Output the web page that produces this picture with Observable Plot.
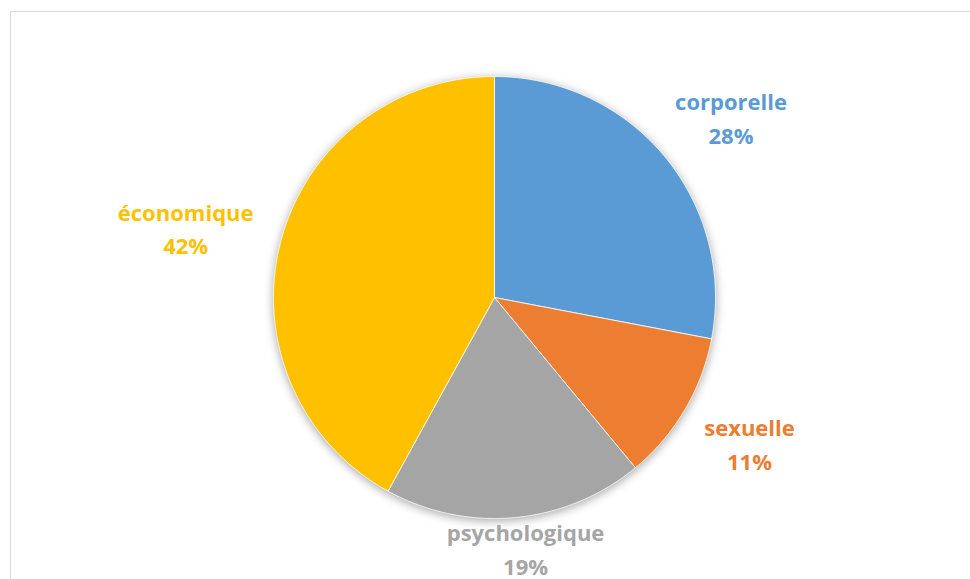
<!DOCTYPE html>
<html>
<head>
<meta charset="utf-8">
<script src="https://cdn.jsdelivr.net/npm/d3@7"></script>
<script src="https://cdn.jsdelivr.net/npm/@observablehq/plot@0.6"></script>
<style>
  html, body { margin: 0; padding: 0; background: #fff; overflow: hidden; }
  #frame { position: absolute; left: 10px; top: 11px; width: 2000px; height: 2000px; border: 1px solid #d9d9d9; box-sizing: border-box; }
  #chart { position: absolute; left: 0; top: 0; }
  #chart svg g[aria-label="line"] { filter: drop-shadow(0px 2px 5px rgba(0,0,0,0.35)); }
</style>
</head>
<body>
<div id="frame"></div>
<div id="chart"></div>
<script>
// ---- data ----
const categories = ["corporelle", "sexuelle", "psychologique", "économique"];
const values = [28, 11, 19, 42];
const colors = ["#5B9BD5", "#ED7D31", "#A5A5A5", "#FFC000"];

// ---- layout ----
const W = 970, H = 579;
const cx = 494, cy = 297, R = 221;
const FONT_SIZE = 22, LINE_H = 1.52;
const FONT = "'Open Sans', sans-serif";

const data = categories.map((c, i) => ({cat: c, value: values[i]}));
const total = d3.sum(values);
const arcs = d3.pie().sort(null).value(d => d.value)(data);

// slice polygons in unit-circle coordinates (y up)
const slicePts = [];
arcs.forEach(a => {
  const cat = a.data.cat;
  slicePts.push({cat, x: 0, y: 0});
  const n = Math.max(4, Math.ceil((a.endAngle - a.startAngle) / 0.01));
  for (let k = 0; k <= n; k++) {
    const t = a.startAngle + (a.endAngle - a.startAngle) * k / n;
    slicePts.push({cat, x: Math.sin(t), y: Math.cos(t)});
  }
  slicePts.push({cat, x: 0, y: 0});
});

// best-fit style labels: text box pushed outside the pie along the mid angle
const ctx = document.createElement("canvas").getContext("2d");
ctx.font = `bold ${FONT_SIZE}px ${FONT}`;
const pad = 30 / R;
const boxH = (FONT_SIZE * LINE_H * 2) / R;
const ymin = -(H - 32 - cy) / R;
const labels = arcs.map(a => {
  const m = (a.startAngle + a.endAngle) / 2;
  const ux = Math.sin(m), uy = Math.cos(m);
  const pct = Math.round(a.data.value / total * 100) + "%";
  const w = Math.max(ctx.measureText(a.data.cat).width, ctx.measureText(pct).width) / R;
  return {
    cat: a.data.cat,
    text: a.data.cat + "\n" + pct,
    x: ux * (1 + pad) + ux * w / 2,
    y: Math.max(ymin, uy * (1 + pad) + uy * boxH / 2)
  };
});

const chart = Plot.plot({
  width: W,
  height: H,
  margin: 0,
  x: {domain: [-cx / R, (W - cx) / R], axis: null},
  y: {domain: [-(H - cy) / R, cy / R], axis: null},
  color: {domain: categories, range: colors},
  style: {background: "transparent"},
  marks: [
    Plot.line(slicePts, {x: "x", y: "y", z: "cat", fill: "cat", stroke: "white", strokeWidth: 0.8, curve: "linear"}),
    Plot.text(labels, {
      x: "x", y: "y", text: "text", fill: "cat",
      fontSize: FONT_SIZE, fontWeight: "bold", fontFamily: FONT,
      lineHeight: LINE_H, textAnchor: "middle"
    })
  ]
});
document.getElementById("chart").appendChild(chart);
</script>
</body>
</html>
